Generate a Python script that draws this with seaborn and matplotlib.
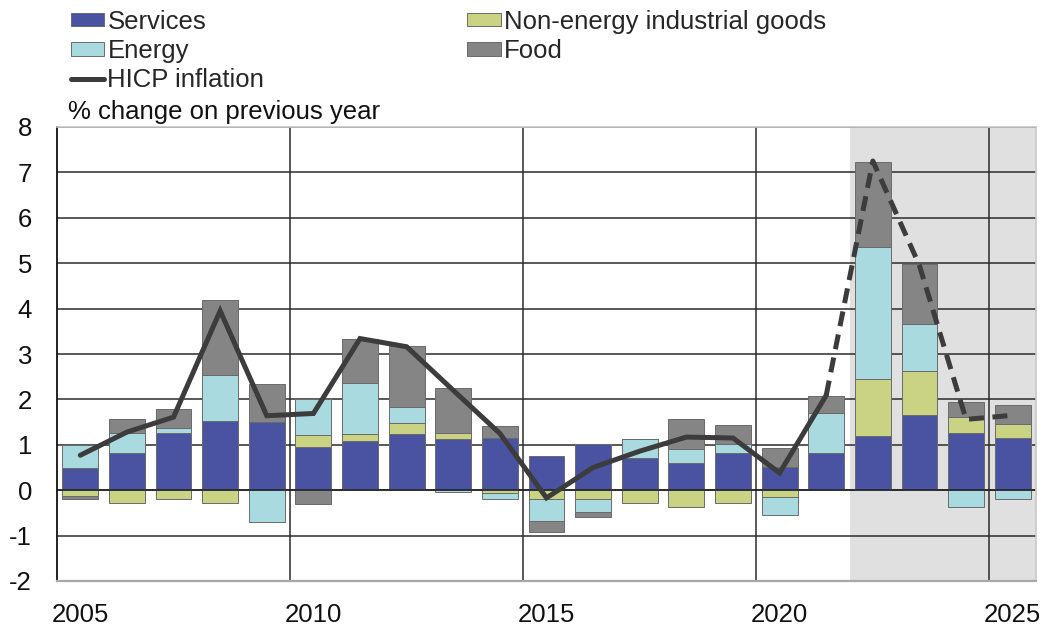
import numpy as np
import pandas as pd
import matplotlib
matplotlib.use("Agg")
import matplotlib.pyplot as plt
from matplotlib.patches import Patch
from matplotlib.lines import Line2D
import seaborn as sns

years = list(range(2005, 2026))
services = [0.48, 0.82, 1.25, 1.52, 1.50, 0.95, 1.09, 1.23, 1.12, 1.16, 0.75,
            1.01, 0.70, 0.60, 0.81, 0.51, 0.82, 1.20, 1.65, 1.25, 1.14]
neig = [-0.13, -0.29, -0.20, -0.28, 0.00, 0.26, 0.14, 0.24, 0.13, -0.06, -0.20,
        -0.20, -0.28, -0.38, -0.29, -0.15, 0.00, 1.26, 0.97, 0.36, 0.31]
energy = [0.51, 0.43, 0.11, 1.01, -0.70, 0.79, 1.13, 0.36, -0.04, -0.14, -0.48,
          -0.29, 0.42, 0.30, 0.20, -0.40, 0.87, 2.90, 1.03, -0.38, -0.20]
food = [-0.07, 0.31, 0.42, 1.67, 0.83, -0.31, 0.96, 1.34, 1.01, 0.26, -0.24,
        -0.11, 0.00, 0.66, 0.42, 0.41, 0.38, 1.86, 1.34, 0.34, 0.42]
hicp = [0.77, 1.28, 1.61, 3.95, 1.64, 1.69, 3.34, 3.16, 2.20, 1.25, -0.17,
        0.50, 0.86, 1.17, 1.15, 0.38, 2.09, 7.25, 4.95, 1.56, 1.65]
last_actual_year = 2021
tick_years = [2005, 2010, 2015, 2020, 2025]

labels = ["Services", "Non-energy industrial goods", "Energy", "Food"]
colors = {"Services": "#4a52a2", "Non-energy industrial goods": "#c9d383",
          "Energy": "#a9dadf", "Food": "#858585"}
components = {"Services": services, "Non-energy industrial goods": neig,
              "Energy": energy, "Food": food}

sns.set_theme(style="white")
plt.rcParams["font.family"] = ["Liberation Sans", "DejaVu Sans"]
FS = 18.5

fig = plt.figure(figsize=(10.48, 6.27), dpi=100)
ax = fig.add_axes([57 / 1048, 1 - 581 / 627, (1036 - 57) / 1048, (581 - 127) / 627])

# shaded projection area
ax.axvspan(2021.5, 2025.5, color="#e0e0e0", zorder=0, lw=0)

# grid lines
for yv in range(-2, 9):
    ax.axhline(yv, color="#2b2b2b", lw=1.1, zorder=0.5)
for xv in [2009.5, 2014.5, 2019.5, 2024.5]:
    ax.axvline(xv, color="#2b2b2b", lw=1.1, zorder=0.5)

pos_base = np.zeros(len(years))
neg_base = np.zeros(len(years))
for lab in labels:
    vals = np.array(components[lab], dtype=float)
    bottoms = np.where(vals >= 0, pos_base, neg_base)
    df = pd.DataFrame({"year": years, "value": vals})
    sns.barplot(data=df, x="year", y="value", native_scale=True, width=0.77,
                color=colors[lab], saturation=1, errorbar=None,
                bottom=bottoms, edgecolor="#6a6a6a", linewidth=0.7,
                ax=ax, zorder=2)
    pos_base = pos_base + np.where(vals > 0, vals, 0)
    neg_base = neg_base + np.where(vals < 0, vals, 0)

ax.axhline(0, color="#222222", lw=1.1, zorder=2.5)

line_df = pd.DataFrame({"year": years, "hicp": hicp})
actual = line_df[line_df["year"] <= last_actual_year]
proj = line_df[line_df["year"] >= last_actual_year]
sns.lineplot(data=actual, x="year", y="hicp", color="#3c3c3c", lw=3.6,
             ax=ax, zorder=4, solid_joinstyle="miter")
sns.lineplot(data=proj, x="year", y="hicp", color="#3c3c3c", lw=3.6,
             ax=ax, zorder=4, linestyle=(0, (3.0, 1.7)))

ax.set_xlim(2004.5, 2025.5)
ax.set_ylim(-2, 8)
ax.set_xticks(tick_years)
ax.set_xticklabels([str(y) for y in tick_years], fontsize=FS, color="#111111")
ax.set_yticks(range(-2, 9))
ax.set_yticklabels([str(v) for v in range(-2, 9)], fontsize=FS, color="#111111")
ax.tick_params(axis="both", length=0)
ax.tick_params(axis="y", pad=18)
ax.tick_params(axis="x", pad=16)
ax.set_xlabel("")
ax.set_ylabel("")
ax.grid(False)

for side, col, lw in [("left", "#111111", 1.3), ("bottom", "#a8a8a8", 1.6),
                      ("top", "#c8c8c8", 1.2), ("right", "#c8c8c8", 1.2)]:
    ax.spines[side].set_visible(True)
    ax.spines[side].set_color(col)
    ax.spines[side].set_linewidth(lw)

handles = [Patch(facecolor=colors["Services"], edgecolor="#6a6a6a", lw=0.7),
           Patch(facecolor=colors["Energy"], edgecolor="#6a6a6a", lw=0.7),
           Line2D([0], [0], color="#3c3c3c", lw=3.6),
           Patch(facecolor=colors["Non-energy industrial goods"], edgecolor="#6a6a6a", lw=0.7),
           Patch(facecolor=colors["Food"], edgecolor="#6a6a6a", lw=0.7)]
hlabels = ["Services", "Energy", "HICP inflation", "Non-energy industrial goods", "Food"]
fig.legend(handles, hlabels, ncol=2, loc="upper left",
           bbox_to_anchor=(71 / 1048, 1 - 10 / 627), frameon=False,
           fontsize=FS, handlelength=1.3, handleheight=0.42, handletextpad=0.12,
           labelspacing=0.2, columnspacing=7.9, borderpad=0, borderaxespad=0)

fig.text(68 / 1048, 1 - 112 / 627, "% change on previous year", fontsize=FS,
         va="center", ha="left", color="#111111")

fig.savefig("out.png", dpi=100)
